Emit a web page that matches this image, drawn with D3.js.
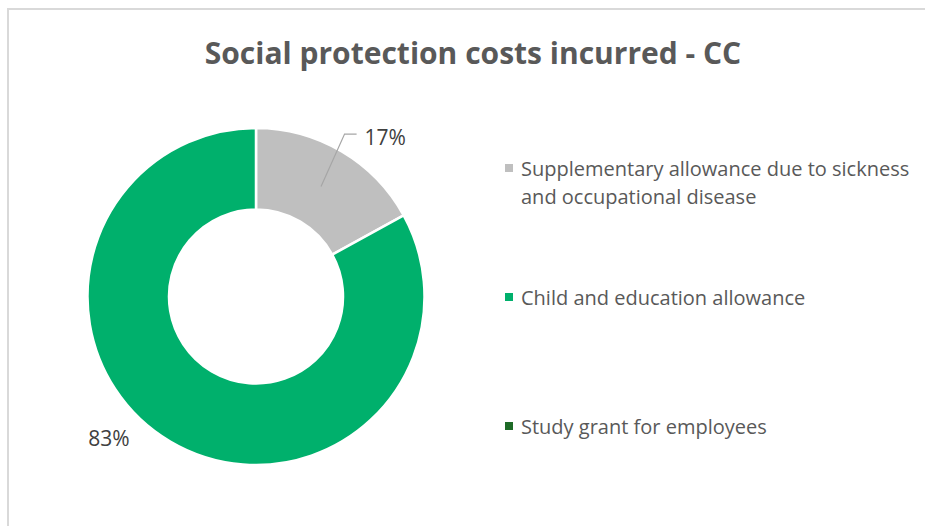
<!DOCTYPE html>
<html>
<head>
<meta charset="utf-8">
<script src="https://cdn.jsdelivr.net/npm/d3@7"></script>
<style>
  html, body { margin: 0; padding: 0; background: #fff; }
  svg { display: block; font-family: "Open Sans", "Noto Sans", sans-serif; }
</style>
</head>
<body>
<svg id="chart" width="925" height="526"></svg>
<script>
// Cost shares (percent) by allowance type
const categories = [
  "Supplementary allowance due to sickness and occupational disease",
  "Child and education allowance",
  "Study grant for employees"
];
const shares = [17, 83, 0];
const colors = ["#bfbfbf", "#00b06c", "#1e6b27"];
const legendLines = [
  ["Supplementary allowance due to sickness", "and occupational disease"],
  ["Child and education allowance"],
  ["Study grant for employees"]
];
const title = "Social protection costs incurred - CC";

const svg = d3.select("#chart");
const W = 925, H = 526;
const textColor = "#595959";

// Chart frame
svg.append("rect")
  .attr("x", 8).attr("y", 9)
  .attr("width", W + 10).attr("height", H + 10)
  .attr("fill", "#fff")
  .attr("stroke", "#d9d9d9").attr("stroke-width", 2);

svg.append("text")
  .attr("x", 473).attr("y", 64)
  .attr("text-anchor", "middle")
  .attr("font-size", 30).attr("font-weight", 700)
  .attr("fill", textColor)
  .text(title);

// Donut
const cx = 256, cy = 296.5;
const outerR = 168.5, innerR = 87;
const data = categories.map((c, i) => ({ name: c, value: shares[i], color: colors[i] }));

const pie = d3.pie().value(d => d.value).sort(null);
const arcs = pie(data);
const arc = d3.arc().innerRadius(innerR).outerRadius(outerR);

const g = svg.append("g").attr("transform", `translate(${cx},${cy})`);
g.selectAll("path.slice")
  .data(arcs.filter(a => a.data.value > 0))
  .join("path")
  .attr("class", "slice")
  .attr("d", arc)
  .attr("fill", d => d.data.color)
  .attr("stroke", "#fff")
  .attr("stroke-width", 2.5)
  .attr("stroke-linejoin", "round");

// Data labels: angle offset (deg) from slice middle and radius
const labelPlace = [
  { dAngle: 8.5, r: 205, leader: true },
  { dAngle: 15.5, r: 204, leader: false },
  null
];
const toXY = (ang, r) => [Math.sin(ang) * r, -Math.cos(ang) * r];
const labelColor = "#404040";

arcs.forEach((a, i) => {
  const p = labelPlace[i];
  if (!p || a.data.value <= 0) return;
  const mid = (a.startAngle + a.endAngle) / 2;
  const [lx, ly] = toXY(mid + p.dAngle * Math.PI / 180, p.r);
  const txt = g.append("text")
    .attr("x", lx).attr("y", ly)
    .attr("text-anchor", "middle")
    .attr("dominant-baseline", "central")
    .attr("font-size", 21)
    .attr("fill", labelColor)
    .text(d3.format(".0%")(a.data.value / 100));
  if (p.leader) {
    const start = arc.centroid(a);
    const elbow = toXY(mid - 2 * Math.PI / 180, 185);
    const bb = txt.node().getBBox();
    g.append("polyline")
      .attr("points", [start, elbow, [bb.x - 8, elbow[1]]].map(q => q.join(",")).join(" "))
      .attr("fill", "none")
      .attr("stroke", "#a6a6a6")
      .attr("stroke-width", 1.2);
  }
});

// Legend
const legend = svg.append("g");
const legendY = [168, 297, 426];
const lineH = 28;
legendLines.forEach((lines, i) => {
  legend.append("rect")
    .attr("x", 505).attr("y", legendY[i] - 4)
    .attr("width", 8).attr("height", 8)
    .attr("fill", colors[i]);
  const t = legend.append("text")
    .attr("x", 521).attr("y", legendY[i])
    .attr("dominant-baseline", "central")
    .attr("font-size", 20)
    .attr("fill", textColor);
  lines.forEach((ln, j) => {
    t.append("tspan").attr("x", 521).attr("y", legendY[i] + j * lineH).text(ln);
  });
});
</script>
</body>
</html>
